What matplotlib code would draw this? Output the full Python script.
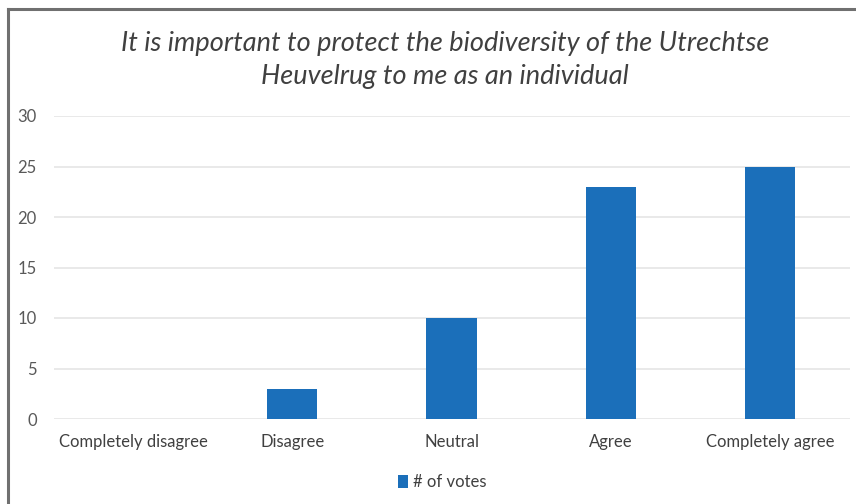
import matplotlib
matplotlib.use("Agg")
import matplotlib.pyplot as plt
from matplotlib.lines import Line2D
from matplotlib.patches import Patch

categories = ["Completely disagree", "Disagree", "Neutral", "Agree", "Completely agree"]
votes = [0, 3, 10, 23, 25]
yticks = [0, 5, 10, 15, 20, 25, 30]
series_name = "# of votes"
title = "It is important to protect the biodiversity of the Utrechtse\nHeuvelrug to me as an individual"

W, H = 856, 504
bar_color = "#1B6FBA"
text_color = "#595959"

plt.rcParams["font.family"] = ["Lato", "DejaVu Sans"]

fig = plt.figure(figsize=(W / 100, H / 100), dpi=100)
fig.patch.set_facecolor("white")

# plot area in pixel terms: x 53.5..849.5, y 116..419 (from top)
left, right = 53.5 / W, 849.5 / W
top, bottom = 1 - 116 / H, 1 - 419 / H
ax = fig.add_axes([left, bottom, right - left, top - bottom])

x = list(range(len(categories)))
ax.bar(x, votes, width=0.315, color=bar_color, zorder=3)

ax.set_xlim(-0.5, len(categories) - 0.5)
ax.set_ylim(0, 30)
ax.set_yticks(yticks)
ax.set_xticks(x)
ax.set_xticklabels(categories)

for s in ax.spines.values():
    s.set_visible(False)
ax.grid(axis="y", color="#e3e3e3", linewidth=1.1, zorder=0)
ax.tick_params(axis="both", length=0, labelsize=12, colors=text_color, labelcolor=text_color)
ax.tick_params(axis="x", pad=11, labelcolor="#404040")
ax.tick_params(axis="y", pad=12)

fig.text(445 / W, 1 - 60 / H, title, ha="center", va="center", fontsize=19.5,
         style="italic", color="#404040", linespacing=1.42)

handle = Patch(facecolor=bar_color, edgecolor="none")
leg = fig.legend([handle], [series_name], loc="center", bbox_to_anchor=(442 / W, 1 - 482 / H),
                 frameon=False, fontsize=12, handlelength=0.6, handleheight=0.8,
                 handletextpad=0.3, borderpad=0)
for t in leg.get_texts():
    t.set_color("#404040")

# frame edge along the top and left
fig.add_artist(Line2D([8 / W, 1], [1 - 8.5 / H, 1 - 8.5 / H], transform=fig.transFigure,
                      color="#707070", linewidth=2.2))
fig.add_artist(Line2D([8 / W, 8 / W], [0, 1 - 8.5 / H], transform=fig.transFigure,
                      color="#707070", linewidth=2.2))

fig.savefig("out.png", dpi=100, facecolor="white")
